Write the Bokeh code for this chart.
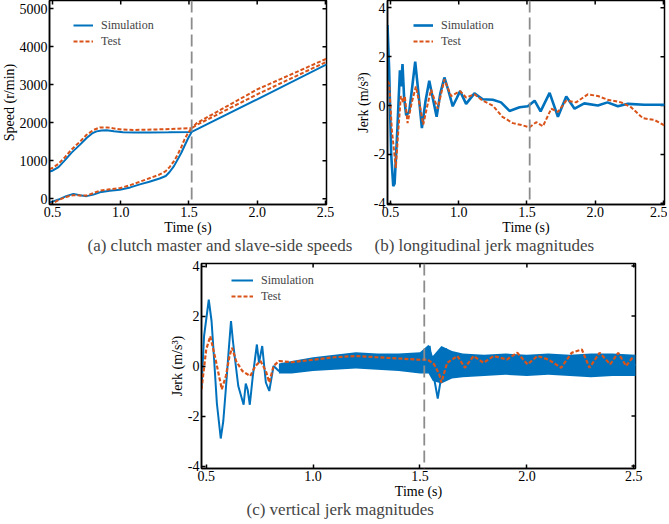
import math
from bokeh.plotting import figure
from bokeh.models import (FixedTicker, Legend, LegendItem, Span, Title,
                          Range1d, NumeralTickFormatter, Spacer)
from bokeh.layouts import column, row
from bokeh.embed import file_html
from bokeh.resources import INLINE

FONT = "Liberation Serif"
BLUE = "#0072BD"
RED = "#D95319"

# ---------------- data ----------------
x_ticks = [0.5, 1.0, 1.5, 2.0, 2.5]
speed_ticks = [0, 1000, 2000, 3000, 4000, 5000]
jerk_ticks = [-4, -2, 0, 2, 4]
switch_time = 1.52

# (a) speeds
sim_master_t = [0.478, 0.50, 0.544, 0.59, 0.64, 0.70, 0.75, 0.79, 0.823, 0.86, 0.896, 0.95, 1.017,
                1.10, 1.21, 1.35, 1.52, 2.0, 2.51]
sim_master_v = [720, 740, 835, 1010, 1215, 1420, 1600, 1720, 1775, 1800, 1805, 1780, 1750,
                1745, 1745, 1750, 1760, 2620, 3540]
test_master_t = [0.478, 0.50, 0.544, 0.59, 0.64, 0.70, 0.75, 0.80, 0.847, 0.90, 0.944, 1.01, 1.09,
                 1.3, 1.52, 1.56, 2.0, 2.51]
test_master_v = [780, 810, 920, 1090, 1300, 1500, 1685, 1810, 1880, 1880, 1855, 1825, 1810,
                 1830, 1860, 2000, 2880, 3690]
sim_slave_t = [0.478, 0.51, 0.544, 0.60, 0.653, 0.70, 0.75, 0.80, 0.847, 0.92, 0.993, 1.07, 1.14,
               1.21, 1.285, 1.33, 1.358, 1.39, 1.419, 1.445, 1.467, 1.495, 1.52]
sim_slave_v = [-100, -60, -20, 70, 130, 95, 70, 110, 170, 210, 240, 300, 380,
               450, 535, 600, 705, 860, 1045, 1220, 1390, 1600, 1760]
test_slave_t = [0.478, 0.51, 0.544, 0.60, 0.653, 0.70, 0.75, 0.80, 0.847, 0.92, 0.993, 1.07, 1.14,
                1.21, 1.285, 1.33, 1.358, 1.39, 1.419, 1.445, 1.467, 1.495, 1.52, 1.56, 2.0, 2.51]
test_slave_v = [-160, -100, -35, 50, 95, 90, 85, 150, 215, 250, 280, 360, 450,
                540, 640, 730, 835, 990, 1175, 1370, 1560, 1740, 1860, 1950, 2750, 3610]

# (b) longitudinal jerk
sim_b_t = [0.478, 0.49, 0.505, 0.52, 0.53, 0.55, 0.569, 0.578, 0.588, 0.60, 0.615, 0.637, 0.66,
           0.681, 0.705, 0.73, 0.757, 0.784, 0.81, 0.838, 0.865, 0.895, 0.925, 0.956, 0.985,
           1.01, 1.054, 1.115, 1.176, 1.25, 1.31, 1.372, 1.446, 1.507, 1.556, 1.60, 1.666,
           1.727, 1.788, 1.849, 1.92, 2.02, 2.09, 2.166, 2.24, 2.36, 2.51]
sim_b_v = [3.3, 1.5, -2.0, -3.3, -3.2, -1.0, 1.44, 0.78, 1.7, 0.3, -0.4, -0.26, 0.8,
           1.8, 0.5, -0.92, 0.2, 1.02, 0.3, -0.46, 0.5, 1.15, 0.6, -0.03, 0.3,
           0.59, 0.07, 0.5, 0.26, 0.24, 0.13, -0.22, -0.07, -0.03, 0.2, -0.24, 0.52,
           -0.46, 0.37, -0.13, 0.09, 0.0, 0.13, -0.03, 0.07, 0.03, 0.03]
test_b_t = [0.478, 0.49, 0.51, 0.539, 0.555, 0.576, 0.593, 0.605, 0.625, 0.655, 0.686, 0.715,
            0.74, 0.77, 0.797, 0.846, 0.895, 0.944, 1.01, 1.054, 1.115, 1.176, 1.25, 1.32,
            1.397, 1.46, 1.52, 1.568, 1.617, 1.678, 1.727, 1.788, 1.86, 1.946, 2.02, 2.09,
            2.19, 2.263, 2.35, 2.434, 2.507]
test_b_v = [1.0, 0.9, -1.0, -2.55, -1.2, 0.39, 0.13, 0.39, -0.72, 0.1, 0.78, 0.0,
            -0.78, 0.0, 0.65, -0.13, 1.07, 0.39, 0.59, 0.33, 0.46, 0.2, 0.0, -0.46,
            -0.72, -0.8, -0.89, -0.68, -0.85, -0.13, -0.26, 0.2, 0.13, 0.46, 0.39, 0.24,
            0.13, -0.07, -0.52, -0.59, -0.81]

# (c) vertical jerk
sim_c_t = [0.478, 0.49, 0.512, 0.525, 0.536, 0.55, 0.568, 0.58, 0.592, 0.605, 0.616, 0.625,
           0.633, 0.65, 0.675, 0.685, 0.694, 0.704, 0.718, 0.737, 0.747, 0.762, 0.779, 0.795,
           0.815, 0.84, 0.9, 1.0, 1.2, 1.4, 1.52, 1.545, 1.56, 1.583, 1.60, 1.62, 1.65, 1.8,
           2.0, 2.2, 2.4, 2.51]
sim_c_v = [-0.9, 1.2, 2.65, 1.8, 0.4, -1.5, -2.9, -2.2, -0.9, 0.6, 1.8, 1.0,
           0.4, -0.8, -1.55, -0.7, -0.95, -1.55, -0.4, 0.86, 0.13, 0.8, -0.66, -1.0,
           0.0, -0.2, 0.0, 0.1, 0.2, 0.15, 0.1, 0.8, -0.2, -1.3, -0.4, 0.7, 0.1, 0.05,
           0.05, 0.05, 0.05, 0.05]
band_t = [0.84, 0.9, 1.0, 1.1, 1.2, 1.3, 1.4, 1.5, 1.54, 1.56, 1.60, 1.65, 1.7, 1.8, 1.9,
          2.0, 2.1, 2.2, 2.3, 2.4, 2.51]
band_top = [0.1, 0.2, 0.35, 0.45, 0.55, 0.5, 0.5, 0.55, 0.85, 0.4, 0.8, 0.6, 0.5, 0.45, 0.5,
            0.45, 0.5, 0.45, 0.5, 0.5, 0.45]
band_bottom = [-0.3, -0.3, -0.2, -0.15, -0.1, -0.15, -0.2, -0.3, -0.3, -0.6, -0.7, -0.5, -0.45,
               -0.4, -0.35, -0.4, -0.35, -0.4, -0.45, -0.4, -0.4]
test_c_t = [0.478, 0.50, 0.519, 0.544, 0.573, 0.592, 0.609, 0.621, 0.64, 0.669, 0.706, 0.73,
            0.754, 0.779, 0.795, 0.815, 0.84, 0.9, 1.0, 1.1, 1.2, 1.3, 1.4, 1.5, 1.535,
            1.566, 1.59, 1.60, 1.627, 1.675, 1.71, 1.75, 1.797, 1.845, 1.906, 1.955, 2.003,
            2.05, 2.1, 2.16, 2.21, 2.257, 2.293, 2.34, 2.39, 2.427, 2.464, 2.5]
test_c_v = [-0.93, 0.66, 1.19, 0.26, -0.93, -0.4, 0.4, 0.73, 0.2, -0.2, -0.4, 0.0,
            0.2, -0.2, -0.66, 0.0, 0.2, 0.15, 0.25, 0.35, 0.4, 0.35, 0.3, 0.25, 0.26,
            0.07, -0.33, -0.66, 0.13, 0.4, -0.07, 0.4, 0.13, 0.4, 0.26, 0.53, 0.07,
            0.4, 0.26, -0.07, 0.53, 0.66, -0.07, 0.53, 0.07, 0.53, 0.0, 0.4]

X_RANGE = (0.478, 2.508)


def make_fig(width, height, yr, yticks, ylabel, borders):
    left, right, top, bottom = borders
    p = figure(width=width, height=height, x_range=Range1d(*X_RANGE), y_range=Range1d(*yr),
               output_backend="svg", toolbar_location=None,
               min_border_left=left, min_border_right=right,
               min_border_top=top, min_border_bottom=bottom)
    p.xgrid.visible = False
    p.ygrid.visible = False
    p.outline_line_color = "black"
    p.outline_line_width = 1.5
    p.border_fill_alpha = 0
    xt = FixedTicker(ticks=x_ticks)
    yt = FixedTicker(ticks=yticks)
    for ax in p.xaxis:
        ax.ticker = xt
        ax.formatter = NumeralTickFormatter(format="0.0")
        ax.axis_label = "Time (s)"
    for ax in p.yaxis:
        ax.ticker = yt
        ax.formatter = NumeralTickFormatter(format="0")
        ax.axis_label = ylabel
    for ax in list(p.xaxis) + list(p.yaxis):
        ax.major_tick_in = 4
        ax.major_tick_out = 0
        ax.minor_tick_in = 0
        ax.minor_tick_out = 0
        ax.axis_line_width = 1.5
        ax.major_tick_line_width = 1.5
        ax.major_label_text_font = FONT
        ax.major_label_text_font_size = "14px"
        ax.major_label_text_color = "black"
        ax.axis_label_text_font = FONT
        ax.axis_label_text_font_size = "14px"
        ax.axis_label_text_font_style = "normal"
        ax.axis_label_text_color = "black"
        ax.major_label_standoff = 2
        ax.axis_label_standoff = 0
    # mirrored inward ticks on the top and right edges of the frame
    p.ray(x=x_ticks, y=[yr[1]] * len(x_ticks), length=4, angle=-math.pi / 2,
          length_units="screen", line_color="black", line_width=1.5)
    p.ray(x=[X_RANGE[1]] * len(yticks), y=yticks, length=4, angle=math.pi,
          length_units="screen", line_color="black", line_width=1.5)
    p.add_layout(Span(location=switch_time, dimension="height", line_color="#8c8c8c",
                      line_dash="12 5", line_width=1.8))
    return p


def add_legend(p, r_sim, r_test, loc, gw):
    leg = Legend(items=[LegendItem(label="Simulation", renderers=[r_sim]),
                        LegendItem(label="Test", renderers=[r_test])],
                 location=loc, glyph_width=gw, glyph_height=16, label_height=16,
                 label_standoff=8, spacing=0, padding=0, margin=0,
                 border_line_color=None, background_fill_alpha=0,
                 label_text_font=FONT, label_text_font_size="12px")
    p.add_layout(leg)


def add_caption(p, text, offset):
    p.add_layout(Title(text=text, align="left", offset=offset, text_font=FONT,
                       text_font_size="17px", text_font_style="normal", standoff=-7), "below")


# (a) -- wider canvas so its caption is not clipped; (b) overlaps it transparently
pa = make_fig(362, 258, (-150, 5220), speed_ticks, "Speed (r/min)", (49, 34, 2, 52))
pa.line(sim_slave_t, sim_slave_v, line_color=BLUE, line_width=2)
r_sa = pa.line(sim_master_t, sim_master_v, line_color=BLUE, line_width=2)
pa.line(test_slave_t, test_slave_v, line_color=RED, line_width=2, line_dash="4 2")
r_ta = pa.line(test_master_t, test_master_v, line_color=RED, line_width=2, line_dash="4 2")
add_legend(pa, r_sa, r_ta, (24, 155), 20)
add_caption(pa, "(a) clutch master and slave-side speeds", 38)

# (b)
pb = make_fig(329, 258, (-4.05, 4.3), jerk_ticks, "Jerk (m/s³)", (49, 3, 2, 52))
pb.margin = (0, 0, 0, -22)
r_sb = pb.line(sim_b_t, sim_b_v, line_color=BLUE, line_width=2.6)
r_tb = pb.line(test_b_t, test_b_v, line_color=RED, line_width=2, line_dash="4 2")
add_legend(pb, r_sb, r_tb, (26, 155), 20)
add_caption(pb, "(b) longitudinal jerk magnitudes", -13)

# (c)
pc = make_fig(503, 264, (-4.1, 4.1), jerk_ticks, "Jerk (m/s³)", (49, 20, 7, 52))
pc.varea(x=band_t, y1=band_bottom, y2=band_top, fill_color=BLUE)
r_sc = pc.line(sim_c_t, sim_c_v, line_color=BLUE, line_width=2)
r_tc = pc.line(test_c_t, test_c_v, line_color=RED, line_width=2.2, line_dash="4 2")
add_legend(pc, r_sc, r_tc, (30, 164), 22)
add_caption(pc, "(c) vertical jerk magnitudes", 45)

layout = column(row(pa, pb), row(Spacer(width=154, height=264), pc))
layout.margin = (-2, 0, 0, -2)

open("out.html", "w").write(file_html(layout, INLINE))
